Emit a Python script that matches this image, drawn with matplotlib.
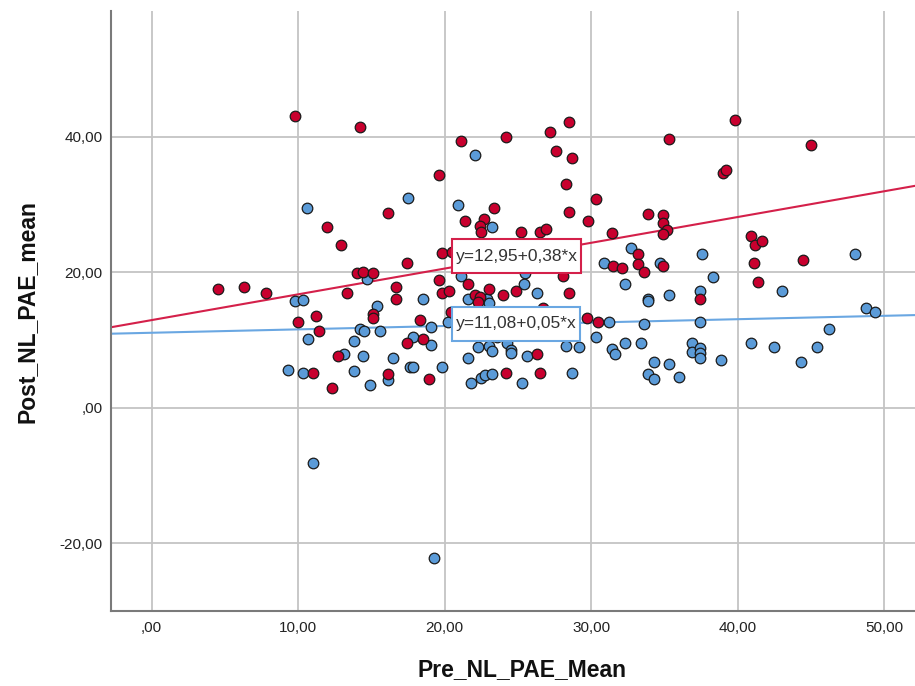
import numpy as np
import matplotlib
matplotlib.use("Agg")
import matplotlib.pyplot as plt
from matplotlib.ticker import FuncFormatter
from matplotlib.path import Path

plt.rcParams['font.family'] = ['Liberation Sans', 'DejaVu Sans']

# group shown in red (Pre vs Post)
red_x = [9.8, 14.2, 16.1, 12.0, 12.9, 17.4, 14.0, 14.4, 15.1, 4.5, 6.3, 7.8, 13.3, 16.7, 16.7,
         15.1, 15.1, 10.0, 11.2, 11.4, 17.4, 12.7, 11.0, 16.1, 12.3,
         21.1, 24.2, 27.2, 28.5, 27.6, 28.7, 19.6, 28.3, 23.4, 30.3, 28.5, 21.4, 22.7, 22.4, 22.5,
         25.2, 26.5, 26.9, 29.8, 31.4, 19.8, 20.5, 31.5, 28.1, 19.6, 21.6, 19.8, 20.3, 23.0, 24.9,
         28.5, 22.1, 22.4, 24.0, 22.3, 26.7, 18.3, 20.4, 29.7, 30.5, 18.5, 26.3, 18.9, 24.2, 26.5,
         35.3, 39.8, 45.0, 39.0, 39.2, 33.9, 34.9, 34.9, 35.2, 34.9, 40.9, 41.2, 41.7, 33.2, 32.1,
         33.2, 33.6, 34.9, 41.1, 44.5, 41.4, 37.4]
red_y = [43.1, 41.5, 28.7, 26.7, 24.0, 21.3, 19.9, 20.1, 19.9, 17.5, 17.9, 16.9, 17.0, 17.9, 16.0,
         13.8, 13.3, 12.7, 13.5, 11.3, 9.5, 7.7, 5.2, 5.0, 3.0,
         39.3, 40.0, 40.7, 42.1, 37.9, 36.9, 34.4, 33.0, 29.5, 30.8, 28.9, 27.6, 27.9, 26.8, 25.9,
         25.9, 25.9, 26.4, 27.6, 25.8, 22.8, 23.0, 20.9, 19.4, 18.8, 18.2, 17.0, 17.2, 17.5, 17.2,
         17.0, 16.6, 16.3, 16.7, 15.6, 14.8, 13.0, 14.1, 13.3, 12.7, 10.1, 8.0, 4.3, 5.2, 5.2,
         39.7, 42.4, 38.8, 34.7, 35.1, 28.6, 28.4, 27.3, 26.2, 25.6, 25.3, 24.1, 24.6, 22.7, 20.6,
         21.2, 20.1, 20.9, 21.3, 21.8, 18.5, 16.1]

# group shown in blue
blue_x = [10.6, 17.5, 14.7, 9.8, 10.35, 15.4, 10.7, 14.2, 14.5, 15.6, 13.8, 13.1, 14.4, 16.5, 17.6,
          9.3, 10.3, 13.8, 16.1, 14.9, 11.0,
          22.1, 20.9, 23.2, 30.9, 25.5, 25.4, 21.1, 26.3, 18.5, 21.6, 22.9, 23.0, 19.1, 20.2, 31.2,
          17.85, 19.1, 22.3, 23.0, 23.2, 24.25, 24.5, 24.5, 23.6, 21.6, 25.6, 28.3, 29.2, 30.3, 31.4,
          31.6, 17.85, 19.8, 21.8, 22.5, 22.75, 23.2, 25.3, 28.7,
          32.7, 37.6, 48.0, 34.7, 38.3, 32.3, 43.0, 35.35, 37.4, 33.9, 33.9, 33.6, 37.4, 48.8, 49.4,
          46.25, 32.3, 33.4, 34.3, 33.9, 34.3, 35.35, 36.0, 36.9, 36.9, 37.4, 37.4, 37.4, 38.9, 40.9,
          42.5, 44.3, 45.4, 19.3]
blue_y = [29.5, 31.0, 19.0, 15.7, 15.85, 15.0, 10.2, 11.7, 11.4, 11.3, 9.8, 8.0, 7.7, 7.4, 6.1,
          5.6, 5.2, 5.5, 4.1, 3.3, -8.1,
          37.3, 29.9, 26.7, 21.3, 19.9, 18.2, 19.4, 17.0, 16.1, 16.1, 16.1, 15.4, 12.0, 12.7, 12.7,
          10.4, 9.3, 9.0, 9.2, 8.4, 9.5, 8.6, 8.1, 10.4, 7.3, 7.7, 9.2, 9.0, 10.4, 8.7,
          8.0, 6.1, 6.1, 3.7, 4.4, 4.9, 5.0, 3.7, 5.2,
          23.6, 22.7, 22.7, 21.3, 19.3, 18.2, 17.3, 16.7, 17.3, 16.1, 15.7, 12.3, 12.6, 14.7, 14.1,
          11.7, 9.5, 9.6, 6.8, 5.0, 4.3, 6.4, 4.6, 9.5, 8.3, 8.9, 8.1, 7.4, 7.1, 9.6,
          9.0, 6.8, 9.0, -22.2]

# fit lines (intercept, slope) as printed on the chart
red_fit = (12.95, 0.38)
blue_fit = (11.08, 0.05)
red_label = "y=12,95+0,38*x"
blue_label = "y=11,08+0,05*x"

xticks = [0, 10, 20, 30, 40, 50]
yticks = [-20, 0, 20, 40]

red_fill = '#c8002e'
blue_fill = '#5b9bd8'
red_line = '#d4204a'
blue_line = '#6aa7e2'


def spss_fmt(v, pos=None):
    s = f"{v:.2f}".replace('.', ',')
    if s.startswith('0,'):
        s = s[1:]
    return s


def label_box(x0, y0, width, height, mutation_size):
    # small padding left/right, more above/below (like the SPSS label box)
    px = 0.2 * mutation_size
    py = 0.55 * mutation_size
    x0, x1 = x0 - px, x0 + width + px
    y0, y1 = y0 - py, y0 + height + py
    return Path.unit_rectangle().transformed(
        matplotlib.transforms.Affine2D().scale(x1 - x0, y1 - y0).translate(x0, y0))


fig = plt.figure(figsize=(9.15, 6.86), dpi=100)
ax = fig.add_axes([0.121, 0.109, 0.898, 0.875])

xmin, xmax = -2.8, 53.3
ax.set_xlim(xmin, xmax)
ax.set_ylim(-30.0, 58.55)

ax.set_xticks(xticks)
ax.set_yticks(yticks)
ax.xaxis.set_major_formatter(FuncFormatter(spss_fmt))
ax.yaxis.set_major_formatter(FuncFormatter(spss_fmt))
ax.tick_params(length=0, labelsize=11, colors='#222222')
ax.tick_params(axis='x', pad=7)
ax.tick_params(axis='y', pad=6)
ax.grid(True, color='#c4c4c4', linewidth=1.3)
ax.set_axisbelow(True)

for side in ['top', 'right']:
    ax.spines[side].set_visible(False)
for side in ['left', 'bottom']:
    ax.spines[side].set_color('#7a7a7a')
    ax.spines[side].set_linewidth(1.5)

# fit lines over whole x range
xx = np.array([xmin, xmax])
ax.plot(xx, red_fit[0] + red_fit[1] * xx, color=red_line, lw=1.5, zorder=2)
ax.plot(xx, blue_fit[0] + blue_fit[1] * xx, color=blue_line, lw=1.5, zorder=2)

ax.scatter(blue_x, blue_y, s=58, c=blue_fill, edgecolors='#1a1a1a', linewidths=0.9, zorder=3)
ax.scatter(red_x, red_y, s=58, c=red_fill, edgecolors='#1a1a1a', linewidths=0.9, zorder=4)

ax.text(20.75, 22.4, red_label, fontsize=12.5, color='#333333', ha='left', va='center', zorder=5,
        bbox=dict(boxstyle=label_box, fc='white', ec=red_line, lw=1.5))
ax.text(20.75, 12.4, blue_label, fontsize=12.5, color='#333333', ha='left', va='center', zorder=5,
        bbox=dict(boxstyle=label_box, fc='white', ec=blue_line, lw=1.5))

ax.set_xlabel("Pre_NL_PAE_Mean", fontsize=16.5, fontweight='bold', color='#111111')
ax.set_ylabel("Post_NL_PAE_mean", fontsize=16.5, fontweight='bold', color='#111111')
ax.xaxis.set_label_coords(0.5, -0.078)
ax.yaxis.set_label_coords(-0.088, 0.5)

fig.savefig("out.png", dpi=100)
